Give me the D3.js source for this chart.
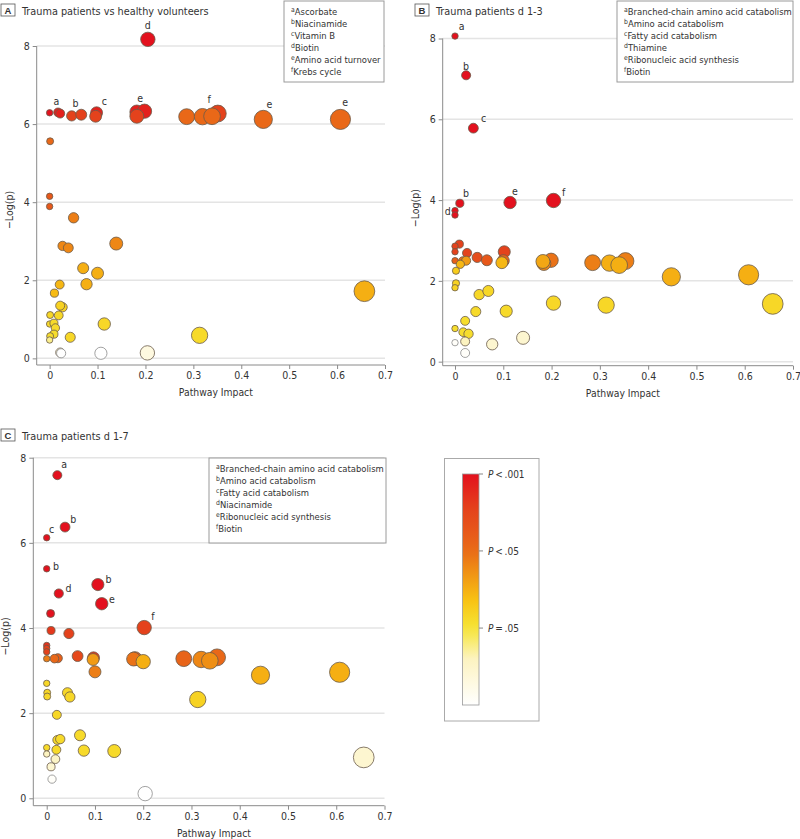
<!DOCTYPE html>
<html><head><meta charset="utf-8">
<script src="https://cdn.jsdelivr.net/npm/d3@7"></script>
<style>
body{margin:0;background:#fff;}
text{font-family:"Liberation Sans Narrow","DejaVu Sans Condensed","Roboto Condensed","Arial Narrow",sans-serif;fill:#333;}
</style></head><body>
<svg id="chart" width="800" height="839"></svg>
<script>
// ---------- shared ticks ----------
const xTickValues = [0, 0.1, 0.2, 0.3, 0.4, 0.5, 0.6, 0.7];
const yTickValues = [0, 2, 4, 6, 8];
const xAxisTitle = "Pathway Impact";
const yAxisTitle = "\u2212Log(p)";

// ---------- Panel A ----------
const aLetter = "A";
const aTitle = "Trauma patients vs healthy volunteers";
const aImpact = [0.205,0.000,0.0175,0.022,0.046,0.066,0.098,0.096,0.182,0.198,0.182,0.286,0.319,0.339,0.351,0.446,0.607,0.001,0.000,0.000,0.050,0.139,0.027,0.039,0.070,0.100,0.077,0.021,0.010,0.657,0.027,0.022,0.001,0.019,0.000,0.009,0.012,0.009,0.001,0.000,0.043,0.114,0.313,0.022,0.024,0.107,0.204];
const aLogP   = [8.17,6.29,6.30,6.27,6.21,6.24,6.29,6.20,6.31,6.33,6.20,6.19,6.19,6.20,6.27,6.12,6.12,5.56,4.15,3.89,3.60,2.94,2.88,2.83,2.31,2.18,1.90,1.89,1.67,1.72,1.31,1.35,1.11,1.10,0.88,0.90,0.78,0.62,0.57,0.47,0.54,0.88,0.59,0.15,0.13,0.13,0.14];
const aHeat   = [1.0,1.0,0.95,0.95,0.85,0.85,0.95,0.85,0.95,0.95,0.85,0.68,0.68,0.68,0.85,0.68,0.68,0.68,0.75,0.75,0.62,0.6,0.6,0.6,0.5,0.5,0.5,0.48,0.47,0.5,0.4,0.4,0.38,0.38,0.37,0.37,0.37,0.36,0.36,0.25,0.38,0.38,0.37,0.12,0.0,0.0,0.1];
const aLabelText = ["a","b","c","d","e","f","e","e"];
const aLabelX    = [0.014,0.054,0.114,0.205,0.189,0.333,0.459,0.617];
const aLabelY    = [6.59,6.53,6.59,8.54,6.67,6.65,6.52,6.57];
const aNoteKeys  = ["a","b","c","d","e","f"];
const aNotes     = ["Ascorbate","Niacinamide","Vitamin B","Biotin","Amino acid turnover","Krebs cycle"];

// ---------- Panel B ----------
const bLetter = "B";
const bTitle = "Trauma patients d 1-3";
const bImpact = [0.000,0.023,0.038,0.010,0.000,0.000,0.114,0.204,0.009,0.000,0.000,0.025,0.102,0.046,0.066,0.100,0.000,0.016,0.023,0.011,0.097,0.002,0.182,0.184,0.199,0.285,0.320,0.340,0.353,0.448,0.608,0.658,0.313,0.204,0.002,0.000,0.050,0.069,0.043,0.106,0.021,0.000,0.017,0.028,0.000,0.021,0.021,0.077,0.141];
const bLogP   = [8.06,7.09,5.78,3.92,3.74,3.63,3.94,3.99,2.91,2.86,2.72,2.69,2.72,2.58,2.51,2.50,2.50,2.49,2.50,2.41,2.45,2.25,2.48,2.43,2.51,2.45,2.44,2.39,2.49,2.10,2.15,1.43,1.40,1.45,1.94,1.83,1.66,1.75,1.24,1.25,1.01,0.82,0.73,0.69,0.47,0.50,0.215,0.43,0.59];
const bHeat   = [1,1,1,1,1,1,1,1,0.85,0.85,0.85,0.85,0.85,0.8,0.75,0.7,0.72,0.65,0.55,0.48,0.48,0.42,0.52,0.6,0.65,0.62,0.5,0.5,0.62,0.5,0.5,0.38,0.38,0.38,0.4,0.4,0.38,0.38,0.37,0.37,0.36,0.36,0.36,0.36,0.02,0.2,0.02,0.15,0.15];
const bLabelText = ["a","b","c","b","d","e","f"];
const bLabelX    = [0.014,0.023,0.059,0.023,-0.015,0.124,0.225];
const bLabelY    = [8.32,7.32,6.02,4.17,3.74,4.22,4.20];
const bNoteKeys  = ["a","b","c","d","e","f"];
const bNotes     = ["Branched-chain amino acid catabolism","Amino acid catabolism","Fatty acid catabolism","Thiamine","Ribonucleic acid synthesis","Biotin"];

// ---------- Panel C ----------
const cLetter = "C";
const cTitle = "Trauma patients d 1-7";
const cImpact = [0.022,0.038,0.000,0.000,0.025,0.106,0.114,0.008,0.202,0.009,0.046,0.000,0.000,0.000,0.000,0.016,0.023,0.064,0.097,0.096,0.100,0.180,0.183,0.200,0.284,0.320,0.338,0.353,0.443,0.607,0.313,0.000,0.001,0.001,0.043,0.048,0.021,0.069,0.022,0.028,0.000,0.020,0.077,0.140,0.000,0.018,0.009,0.011,0.204,0.657];
const cLogP   = [7.59,6.37,6.12,5.39,4.81,5.02,4.57,4.34,4.01,3.94,3.87,3.59,3.52,3.44,3.28,3.28,3.29,3.34,3.30,3.26,2.97,3.27,3.28,3.21,3.28,3.26,3.23,3.31,2.89,2.96,2.32,2.70,2.48,2.39,2.48,2.38,1.96,1.48,1.37,1.39,1.19,1.14,1.12,1.11,1.04,0.92,0.74,0.45,0.11,0.96];
const cHeat   = [1,1,1,1,1,1,1,1,0.85,0.88,0.85,0.9,0.85,0.85,0.62,0.68,0.72,0.82,0.88,0.55,0.62,0.65,0.72,0.5,0.7,0.6,0.58,0.68,0.5,0.5,0.4,0.38,0.38,0.38,0.38,0.38,0.38,0.37,0.37,0.37,0.37,0.37,0.37,0.37,0.2,0.18,0.15,0.02,0.0,0.15];
const cLabelText = ["a","b","c","b","d","b","e","f"];
const cLabelX    = [0.036,0.055,0.010,0.019,0.045,0.128,0.135,0.220];
const cLabelY    = [7.86,6.55,6.33,5.46,4.94,5.15,4.69,4.29];
const cNoteKeys  = ["a","b","c","d","e","f"];
const cNotes     = ["Branched-chain amino acid catabolism","Amino acid catabolism","Fatty acid catabolism","Niacinamide","Ribonucleic acid synthesis","Biotin"];

// ---------- color legend ----------
const legendHeat   = [1, 0.667, 0.333];
const legendLabels = [["P", "\u2009<\u2009.001"], ["P", "\u2009<\u2009.05"], ["P", "\u2009=\u2009.05"]];

// ---------- scales ----------
const heatColor = d3.scaleLinear()
  .domain([0, 0.2, 0.333, 0.45, 0.58, 0.667, 0.85, 1])
  .range(["#ffffff", "#fcf3c0", "#f6e535", "#f8c313", "#ef8f14", "#e96b18", "#e4421c", "#e3111e"])
  .interpolate(d3.interpolateRgb);
const radius = d3.scaleSqrt().domain([0, 0.7]).range([3.2, 10.6]);

const svg = d3.select("#chart");

function drawPanel(p) {
  const g = svg.append("g");
  const x = d3.scaleLinear().domain(p.xDomain).range(p.xRange);
  const y = d3.scaleLinear().domain(p.yDomain).range(p.yRange);

  // gridlines
  g.append("g").selectAll("line").data(yTickValues).join("line")
    .attr("x1", p.xRange[0]).attr("x2", p.xRange[1])
    .attr("y1", d => y(d)).attr("y2", d => y(d))
    .attr("stroke", "#e4e4e4").attr("stroke-width", 1.5);

  // axes
  const ax = g.append("g").attr("transform", `translate(0,${p.yRange[0]})`)
    .call(d3.axisBottom(x).tickValues(xTickValues).tickFormat(d => d === 0 ? "0" : d3.format(".1f")(d)).tickSize(4).tickPadding(3));
  const ay = g.append("g").attr("transform", `translate(${p.xRange[0]},0)`)
    .call(d3.axisLeft(y).tickValues(yTickValues).tickSize(4).tickPadding(3));
  [ax, ay].forEach(a => {
    a.select(".domain").attr("stroke", "#8a8a8a");
    a.selectAll(".tick line").attr("stroke", "#8a8a8a");
    a.selectAll(".tick text").attr("fill", "#333").style("font-size", "10.5px");
  });
  ax.select(".domain").attr("d", `M${p.xRange[0]},0H${p.xRange[1]}`);
  ay.select(".domain").attr("d", `M0,${p.yRange[0]}V${p.yRange[1]}`);

  // axis titles
  g.append("text").attr("x", (p.xRange[0] + p.xRange[1]) / 2 + 5).attr("y", p.yRange[0] + 31)
    .attr("text-anchor", "middle").style("font-size", "10.3px").text(xAxisTitle);
  g.append("text").attr("transform", `translate(${p.xRange[0] - 24},${y(3.8)}) rotate(-90)`)
    .attr("text-anchor", "middle").style("font-size", "10.5px").text(yAxisTitle);

  // bubbles (higher heat drawn first)
  const pts = p.impact.map((v, i) => ({ x: v, y: p.logp[i], h: p.heat[i] }))
    .sort((a, b) => d3.descending(a.h, b.h));
  g.append("g").selectAll("circle").data(pts).join("circle")
    .attr("cx", d => x(d.x)).attr("cy", d => y(d.y)).attr("r", d => radius(d.x))
    .attr("fill", d => heatColor(d.h))
    .attr("stroke", d => d.h < 0.1 ? "#8a8a8a" : "#6a5a4a").attr("stroke-width", 0.8);

  // letter annotations
  g.append("g").selectAll("text").data(p.labelText).join("text")
    .attr("x", (d, i) => x(p.labelX[i])).attr("y", (d, i) => y(p.labelY[i]) + 4)
    .attr("text-anchor", "middle").style("font-size", "10.5px").text(d => d);

  // title + panel letter
  g.append("rect").attr("x", p.boxX).attr("y", p.boxY).attr("width", 14).attr("height", 12)
    .attr("fill", "#fff").attr("stroke", "#555").attr("stroke-width", 0.8);
  g.append("text").attr("x", p.boxX + 7).attr("y", p.boxY + 10).attr("text-anchor", "middle")
    .style("font-size", "9.5px").style("font-weight", "bold").style("font-family", "Liberation Sans, Arial, sans-serif").text(p.letter);
  g.append("text").attr("x", p.boxX + 21).attr("y", p.boxY + 10.5)
    .style("font-size", "10.8px").text(p.title);

  // footnote box
  const nb = g.append("g");
  nb.append("rect").attr("x", p.noteBox[0]).attr("y", p.noteBox[1]).attr("width", p.noteBox[2]).attr("height", p.noteBox[3])
    .attr("fill", "#fff").attr("stroke", "#9a9a9a").attr("stroke-width", 1);
  p.notes.forEach((t, i) => {
    const tx = nb.append("text").attr("x", p.noteBox[0] + 7).attr("y", p.noteBox[1] + 14 + i * 11.9).style("font-size", "9.4px");
    tx.append("tspan").attr("dy", -3).style("font-size", "6.8px").text(p.noteKeys[i]);
    tx.append("tspan").attr("dy", 3).text(t);
  });
}

drawPanel({letter: aLetter, title: aTitle, impact: aImpact, logp: aLogP, heat: aHeat,
  labelText: aLabelText, labelX: aLabelX, labelY: aLabelY, noteKeys: aNoteKeys, notes: aNotes,
  xDomain: [-0.027, 0.7], xRange: [36.7, 385], yDomain: [-0.17, 8], yRange: [365, 46],
  boxX: 1, boxY: 4, noteBox: [284, 1, 100, 81]});
drawPanel({letter: bLetter, title: bTitle, impact: bImpact, logp: bLogP, heat: bHeat,
  labelText: bLabelText, labelX: bLabelX, labelY: bLabelY, noteKeys: bNoteKeys, notes: bNotes,
  xDomain: [-0.0255, 0.7], xRange: [442.7, 793], yDomain: [-0.1, 8], yRange: [365.7, 38.5],
  boxX: 415, boxY: 4, noteBox: [617, 1, 176, 81]});
drawPanel({letter: cLetter, title: cTitle, impact: cImpact, logp: cLogP, heat: cHeat,
  labelText: cLabelText, labelX: cLabelX, labelY: cLabelY, noteKeys: cNoteKeys, notes: cNotes,
  xDomain: [-0.0278, 0.7], xRange: [33.3, 384.5], yDomain: [-0.174, 8], yRange: [805.7, 457.7],
  boxX: 1, boxY: 429, noteBox: [209, 458, 177, 85]});

// ---------- color legend ----------
const lg = svg.append("g");
const defs = svg.append("defs");
const grad = defs.append("linearGradient").attr("id", "heatGrad").attr("x1", 0).attr("y1", 0).attr("x2", 0).attr("y2", 1);
d3.range(0, 1.0001, 0.05).forEach(t => grad.append("stop").attr("offset", t).attr("stop-color", heatColor(1 - t)));
lg.append("rect").attr("x", 444.5).attr("y", 458.5).attr("width", 94.5).attr("height", 262.5)
  .attr("fill", "#fff").attr("stroke", "#aaa");
const barY = d3.scaleLinear().domain([1, 0]).range([474, 705]);
lg.append("rect").attr("x", 462.5).attr("y", barY(1)).attr("width", 16.5).attr("height", barY(0) - barY(1))
  .attr("fill", "url(#heatGrad)").attr("stroke", "#999").attr("stroke-width", 0.8);
legendHeat.forEach((h, i) => {
  lg.append("line").attr("x1", 479).attr("x2", 483).attr("y1", barY(h)).attr("y2", barY(h)).attr("stroke", "#888");
  const t = lg.append("text").attr("x", 488).attr("y", barY(h) + 4).style("font-size", "10px");
  t.append("tspan").style("font-style", "italic").text(legendLabels[i][0]);
  t.append("tspan").text(legendLabels[i][1]);
});
</script>
</body></html>
